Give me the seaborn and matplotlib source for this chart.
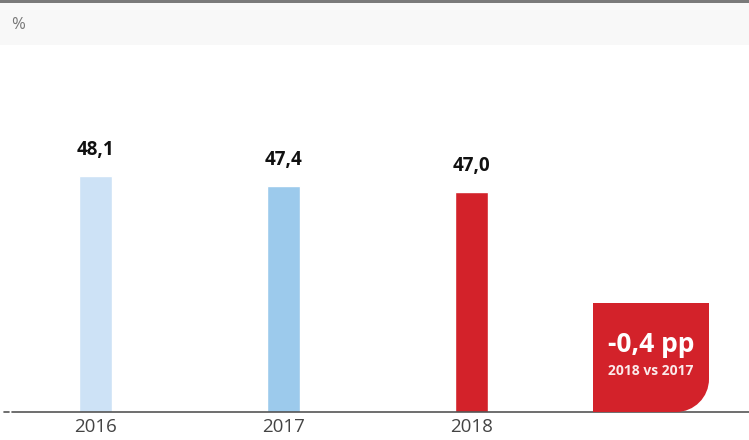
import matplotlib
matplotlib.use("Agg")
import matplotlib.pyplot as plt
from matplotlib.path import Path
from matplotlib.patches import PathPatch, Rectangle
from matplotlib.transforms import Affine2D
import seaborn as sns
import pandas as pd

# Share of the indicator by year (%)
years = ["2016", "2017", "2018"]
values = [48.1, 47.4, 47.0]
bar_colors = ["#cde2f6", "#9ccaec", "#d3222a"]
unit_label = "%"
compare_note = "2018 vs 2017"

df = pd.DataFrame({"year": years, "value": values})

sns.set_theme(style="white")
plt.rcParams["font.family"] = ["Open Sans", "DejaVu Sans"]

W, H = 749, 440
fig = plt.figure(figsize=(W / 100, H / 100), dpi=100)
fig.patch.set_facecolor("white")

# pixel helper (origin top-left) -> figure points
px = Affine2D().scale(0.01) + fig.dpi_scale_trans


def fy(y_top):
    return H - y_top


# header band and rule
fig.patches.append(Rectangle((0, fy(45)), W, 42, transform=px,
                             facecolor="#f8f8f8", edgecolor="none", zorder=0))
fig.patches.append(Rectangle((0, fy(3)), W, 3, transform=px,
                             facecolor="#7a7a7a", edgecolor="none", zorder=1))
fig.text(11 / W, 1 - 25 / H, unit_label, fontsize=12, color="#777777",
         ha="left", va="center")

ax = fig.add_axes([0, 28 / H, 1, (412 - 50) / H])
ax.set_facecolor("none")

sns.barplot(data=df, x="year", y="value", hue="year", palette=bar_colors,
            legend=False, width=0.175, ax=ax, saturation=1)

y0 = 31.88
ax.set_ylim(y0, 56.76)
ax.set_xlim(-0.508, 3.476)
for s in ax.spines.values():
    s.set_visible(False)
ax.set_yticks([])
ax.set_xticks([])
ax.set_xlabel("")
ax.set_ylabel("")

# value labels above bars, year labels under the baseline
for i, v in enumerate(values):
    ax.annotate(f"{v:.1f}".replace(".", ","), (i, v), xytext=(0, 19),
                textcoords="offset points", ha="center", va="center",
                fontsize=13.5, fontweight="bold", color="#111111")
    ax.annotate(years[i], (i, y0), xytext=(0, -10.5),
                textcoords="offset points", ha="center", va="center",
                fontsize=13.5, color="#444444")

# baseline
fig.lines.append(plt.Line2D([12, W], [fy(412), fy(412)], transform=px,
                            color="#555555", lw=1.2))
fig.lines.append(plt.Line2D([4, 9], [fy(412), fy(412)], transform=px,
                            color="#555555", lw=1.2))

# change badge with rounded bottom-right corner
x0, x1, yt, yb, r = 593, 709, 303, 412, 33
k = 0.5523 * r
verts = [(x0, fy(yt)), (x1, fy(yt)), (x1, fy(yb - r)),
         (x1, fy(yb - r + k)), (x1 - r + k, fy(yb)), (x1 - r, fy(yb)),
         (x0, fy(yb)), (x0, fy(yt))]
codes = [Path.MOVETO, Path.LINETO, Path.LINETO,
         Path.CURVE4, Path.CURVE4, Path.CURVE4,
         Path.LINETO, Path.CLOSEPOLY]
fig.patches.append(PathPatch(Path(verts, codes), transform=px,
                             facecolor="#d3222a", edgecolor="none", zorder=2))

delta = values[2] - values[1]
fig.text(651 / W, fy(344) / H, f"{delta:.1f}".replace(".", ",") + " pp",
         ha="center", va="center", fontsize=19, fontweight="bold",
         color="white", zorder=3)
fig.text(651 / W, fy(371) / H, compare_note, ha="center", va="center",
         fontsize=10, fontweight="bold", color="#fbeaea", zorder=3)

fig.savefig("out.png", dpi=100)
